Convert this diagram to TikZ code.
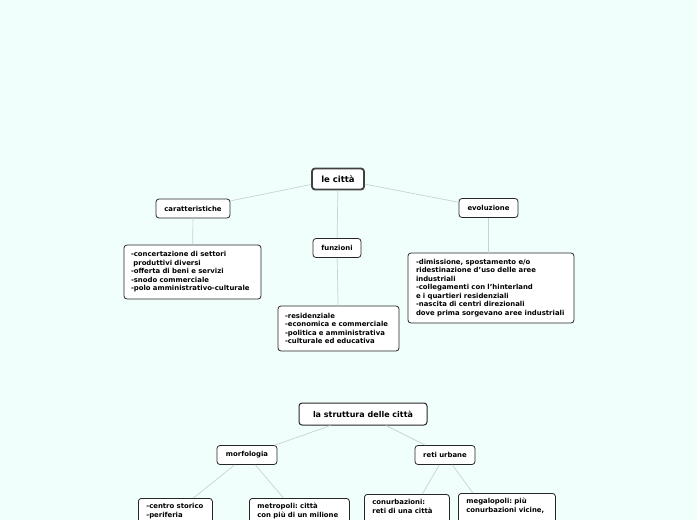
\documentclass[tikz,border=0pt]{standalone}
\usepackage{fontspec}
\setmainfont{DejaVu Sans}
\frenchspacing
\definecolor{bgc}{RGB}{241,255,252}
\definecolor{linec}{RGB}{200,210,210}
\begin{document}
\begin{tikzpicture}[x=1pt,y=-1pt,
  box/.style={draw=black!85, fill=white, rounded corners=3pt, line width=0.8pt,
    font=\bfseries\fontsize{6.9}{8.5}\selectfont, inner ysep=0pt},
  lbl/.style={box, minimum height=19pt, inner xsep=0pt, align=center},
  detail/.style={box, align=left, inner xsep=7pt},
  cut/.style={box, align=left, inner xsep=8pt, inner ysep=5pt, anchor=north west},
  root/.style={draw=black!75, fill=white, rounded corners=3pt, line width=1.8pt,
    font=\bfseries\fontsize{8.5}{10}\selectfont, minimum height=21pt, inner xsep=0pt},
  root2/.style={draw=black!85, fill=white, rounded corners=3pt, line width=1pt,
    font=\bfseries\fontsize{8}{10}\selectfont, minimum height=22pt, inner xsep=0pt},
  conn/.style={draw=linec, line width=0.7pt}
]
\useasboundingbox (0,0) rectangle (697,520);
\clip (0,0) rectangle (697,520);
\fill[bgc] (0,0) rectangle (697,520);

% nodes
\node[root, minimum width=52pt] (citta) at (338,179) {le città};
\node[lbl, minimum width=74pt] (car) at (193,208.5) {caratteristiche};
\node[lbl, minimum width=48pt] (fun) at (337,248) {funzioni};
\node[lbl, minimum width=59pt] (evo) at (488.5,208) {evoluzione};

\node[detail, text width=123pt, minimum height=54pt] (card) at (192.5,272)
  {-concertazione di settori\\\hspace*{0.35em}produttivi diversi\\-offerta di beni e servizi\\-snodo commerciale\\-polo amministrativo-culturale};
\node[detail, text width=107pt, minimum height=45pt] (fund) at (338.5,328.5)
  {-residenziale\\-economica e commerciale\\-politica e amministrativa\\-culturale ed educativa};
\node[detail, inner xsep=8pt, text width=150pt, minimum height=70pt] (evod) at (491,288)
  {-dimissione, spostamento e/o\\ridestinazione d'uso delle aree\\industriali\\-collegamenti con l'hinterland\\e i quartieri residenziali\\-nascita di centri direzionali\\dove prima sorgevano aree industriali};

\node[root2, minimum width=128pt] (strut) at (363,414) {la struttura delle città};
\node[lbl, minimum width=60pt] (morf) at (247,455) {morfologia};
\node[lbl, minimum width=60pt] (reti) at (445,455) {reti urbane};

\node[cut, text width=58pt] (cs) at (138,498) {-centro storico\\-periferia\\\mbox{}\\\mbox{}};
\node[cut, text width=84pt] (metro) at (249,498) {metropoli: città\\con più di un milione\\\mbox{}\\\mbox{}};
\node[cut, text width=69pt] (conu) at (364,494) {conurbazioni:\\reti di una città\\\mbox{}\\\mbox{}};
\node[cut, text width=81pt] (mega) at (458,493) {megalopoli: più\\conurbazioni vicine,\\\mbox{}\\\mbox{}};

% connectors
\draw[conn] (citta) -- (car);
\draw[conn] (citta) -- (fun);
\draw[conn] (citta) -- (evo);
\draw[conn] (car) -- (card);
\draw[conn] (fun) -- (fund);
\draw[conn] (evo.south) -- (evod.north -| evo.south);
\draw[conn] (strut) -- (morf);
\draw[conn] (strut) -- (reti);
\draw[conn] (morf) -- ([xshift=18pt]cs.north);
\draw[conn] (morf) -- ([xshift=-16pt]metro.north);
\draw[conn] (reti) -- ([xshift=15.5pt]conu.north);
\draw[conn] (reti) -- ([xshift=-34pt]mega.north);
\end{tikzpicture}
\end{document}
